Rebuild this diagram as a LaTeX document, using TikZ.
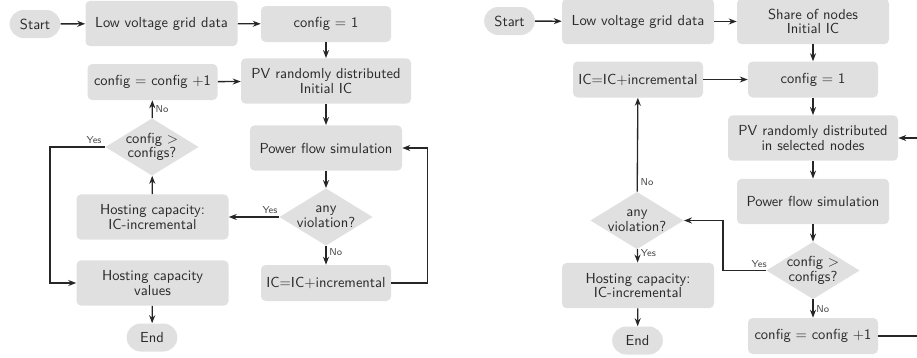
\documentclass[tikz,border=0pt]{standalone}
\usepackage{tikz}
\usetikzlibrary{shapes.geometric,shapes.misc,arrows.meta}
\definecolor{boxgray}{HTML}{E0E0E0}
\definecolor{txtgray}{HTML}{2A2A2A}

\begin{document}
\begin{tikzpicture}[x=0.75pt,y=-0.75pt,
  font=\sffamily\fontsize{10.9}{11}\selectfont, text=txtgray,
  procbox/.style={rectangle, rounded corners=3.5pt, fill=boxgray, align=center, inner sep=1pt},
  bigbox/.style={procbox, minimum width=114pt, minimum height=34pt},
  smallbox/.style={procbox, minimum width=97.5pt, minimum height=27pt},
  pvbox/.style={procbox, minimum width=127.5pt, minimum height=34pt},
  termbox/.style={rounded rectangle, fill=boxgray, minimum width=40pt, minimum height=21pt, inner sep=1pt},
  decbox/.style={diamond, aspect=1.6, fill=boxgray, align=center, inner sep=-1pt, minimum width=70pt, minimum height=43pt},
  flow/.style={-{Stealth[length=6pt,width=4.5pt]}, line width=1pt, black!85},
  lbl/.style={font=\sffamily\fontsize{7.5}{9}\selectfont, text=black!70, inner sep=2pt}]
  \useasboundingbox (0,0) rectangle (917,357);
  \clip (0,0) rectangle (917,357);

  \node[termbox] (start) at (35,24) {Start};
  \node[bigbox] (grid) at (161.5,23.5) {Low voltage grid data};
  \node[smallbox] (cfgone) at (326,24) {config = 1};
  \node[pvbox] (pv) at (326,81) {PV randomly distributed\\Initial IC};
  \node[smallbox] (cfginc) at (152.5,82) {config = config +1};
  \node[decbox] (cfgchk) at (152,147) {config >\\configs?};
  \node[bigbox] (pfs) at (326,148) {Power flow simulation};
  \node[decbox] (viol) at (326,217) {any\\violation?};
  \node[bigbox] (hcinc) at (152.5,217) {Hosting capacity:\\IC-incremental};
  \node[smallbox] (icinc) at (326,283) {IC=IC+incremental};
  \node[bigbox] (hcval) at (152.5,283) {Hosting capacity\\values};
  \node[termbox] (end) at (152,337.5) {End};

  \draw[flow] (start) -- (grid);
  \draw[flow] (grid) -- (cfgone);
  \draw[flow] (cfgone) -- (pv);
  \draw[flow] (pv) -- (pfs);
  \draw[flow] (pfs) -- (viol);
  \draw[flow] (viol) -- node[lbl, above, pos=0.18] {Yes} (hcinc);
  \draw[flow] (viol) -- node[lbl, right, pos=0.35] {No} (icinc);
  \draw[flow] (icinc.east) -- ++(36,0) |- (pfs.east);
  \draw[flow] (hcinc) -- (cfgchk);
  \draw[flow] (cfgchk) -- node[lbl, right] {No} (cfginc);
  \draw[flow] (cfginc) -- (pv);
  \draw[flow] (cfgchk.west) -- node[lbl, above, pos=0.2] {Yes} ++(-55,0) |- (hcval.west);
  \draw[flow] (hcval) -- (end);

  \node[termbox] (startb) at (509.5,21) {Start};
  \node[bigbox] (gridb) at (638,21.5) {Low voltage grid data};
  \node[bigbox] (share) at (813,21.5) {Share of nodes\\Initial IC};
  \node[smallbox] (icincb) at (638,79.5) {IC=IC+incremental};
  \node[smallbox] (cfgoneb) at (813,79.5) {config = 1};
  \node[pvbox] (pvb) at (813,138) {PV randomly distributed\\in selected nodes};
  \node[bigbox] (pfsb) at (813,201.5) {Power flow simulation};
  \node[decbox] (cfgchkb) at (813,270.5) {config >\\configs?};
  \node[smallbox] (cfgincb) at (813,336) {config = config +1};
  \node[decbox] (violb) at (637,220.5) {any\\violation?};
  \node[bigbox] (hcincb) at (638,285.5) {Hosting capacity:\\IC-incremental};
  \node[termbox] (endb) at (637.5,340.5) {End};
  \coordinate (redge) at (930,0);

  \draw[flow] (startb) -- (gridb);
  \draw[flow] (gridb) -- (share);
  \draw[flow] (share) -- (cfgoneb);
  \draw[flow] (icincb) -- (cfgoneb);
  \draw[flow] (cfgoneb) -- (pvb);
  \draw[flow] (pvb) -- (pfsb);
  \draw[flow] (pfsb) -- (cfgchkb);
  \draw[flow] (cfgchkb) -- node[lbl, right] {No} (cfgincb);
  \draw[flow] (cfgincb.east) -- (cfgincb.east -| redge) |- (pvb.east);
  \draw[flow] (cfgchkb.west) -- node[lbl, above, pos=0.16] {Yes} ++(-43,0) |- (violb.east);
  \draw[flow] (violb) -- node[lbl, right, pos=0.1] {No} (icincb);
  \draw[flow] (violb) -- node[lbl, right, pos=0.3] {Yes} (hcincb);
  \draw[flow] (hcincb) -- (endb);
\end{tikzpicture}
\end{document}
